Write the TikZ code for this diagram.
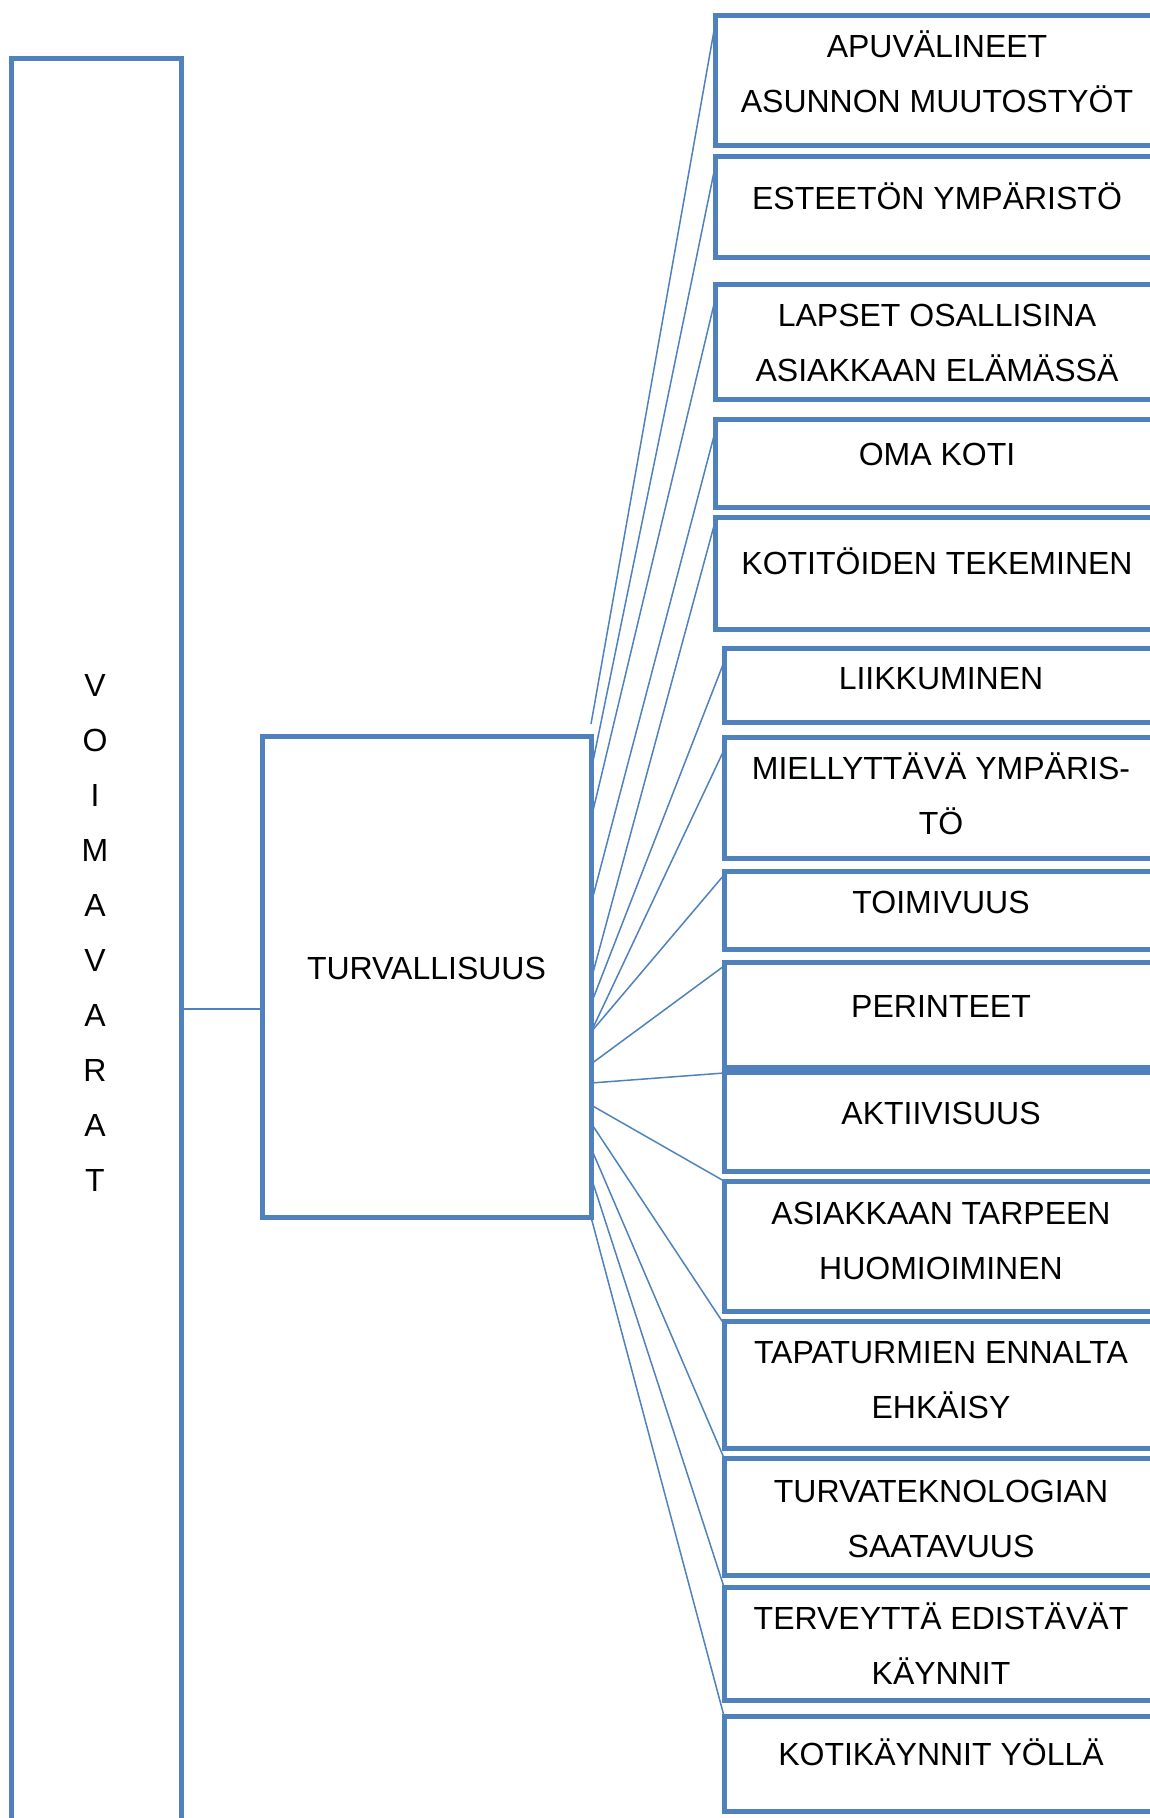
\documentclass[tikz,border=0pt]{standalone}
\usepackage{fontspec}
\setmainfont{Liberation Sans}
\usetikzlibrary{calc}
\definecolor{wordblue}{HTML}{4F81BD}
% fixed line height so multi-line labels centre on their capitals
\newcommand\linestrut{\rule[-10pt]{0pt}{40pt}}
\begin{document}
\begin{tikzpicture}[x=1pt,y=-1pt,
  box/.style={draw=wordblue, line width=5pt, rectangle, inner sep=0pt, outer sep=0pt},
  txt/.style={inner sep=0pt, align=center, font=\fontsize{32}{55}\selectfont},
  conn/.style={draw=wordblue, line width=1.5pt}]
\clip (0,0) rectangle (1150,1818);

% left column and the central box
\node[box, minimum width=169.4, minimum height=1782] (vo) at (96.3,949) {};
\node[txt] (vo-t) at (95,934) {\linestrut V\\\linestrut O\\\linestrut I\\\linestrut M\\\linestrut A\\\linestrut V\\\linestrut A\\\linestrut R\\\linestrut A\\\linestrut T};
\node[box, minimum width=329, minimum height=481] (turv) at (426.5,976.5) {};
\node[txt] (turv-t) at (426.5,969.5) {\linestrut TURVALLISUUS};

% upper group of boxes
\node[box, minimum width=444, minimum height=130] (apu) at (937,80) {};
\node[txt] (apu-t) at (937,75) {\linestrut APUVÄLINEET\\\linestrut ASUNNON MUUTOSTYÖT};
\node[box, minimum width=444, minimum height=101] (est) at (937,206.5) {};
\node[txt] (est-t) at (937,199.5) {\linestrut ESTEETÖN YMPÄRISTÖ};
\node[box, minimum width=444, minimum height=115] (lap) at (937,341.5) {};
\node[txt] (lap-t) at (937,343.5) {\linestrut LAPSET OSALLISINA\\\linestrut ASIAKKAAN ELÄMÄSSÄ};
\node[box, minimum width=444, minimum height=88] (oma) at (937,463) {};
\node[txt] (oma-t) at (937,455.5) {\linestrut OMA KOTI};
\node[box, minimum width=444, minimum height=112] (kot) at (937,573) {};
\node[txt] (kot-t) at (937,564.5) {\linestrut KOTITÖIDEN TEKEMINEN};

% lower group of boxes
\node[box, minimum width=434, minimum height=74] (liik) at (941,685) {};
\node[txt] (liik-t) at (941,679.5) {\linestrut LIIKKUMINEN};
\node[box, minimum width=434, minimum height=121] (miel) at (941,797.5) {};
\node[txt] (miel-t) at (941,796.5) {\linestrut MIELLYTTÄVÄ YMPÄRIS-\\\linestrut TÖ};
\node[box, minimum width=434, minimum height=78] (toim) at (941,910) {};
\node[txt] (toim-t) at (941,903.5) {\linestrut TOIMIVUUS};
\node[box, minimum width=434, minimum height=105] (per) at (941,1014.5) {};
\node[txt] (per-t) at (941,1007.5) {\linestrut PERINTEET};
\node[box, minimum width=434, minimum height=99] (akt) at (941,1121.5) {};
\node[txt] (akt-t) at (941,1114.5) {\linestrut AKTIIVISUUS};
\node[box, minimum width=434, minimum height=130] (asi) at (941,1246) {};
\node[txt] (asi-t) at (941,1242) {\linestrut ASIAKKAAN TARPEEN\\\linestrut HUOMIOIMINEN};
\node[box, minimum width=434, minimum height=127] (tap) at (941,1384.5) {};
\node[txt] (tap-t) at (941,1380.5) {\linestrut TAPATURMIEN ENNALTA\\\linestrut EHKÄISY};
\node[box, minimum width=434, minimum height=117] (tek) at (941,1516.5) {};
\node[txt] (tek-t) at (941,1519.5) {\linestrut TURVATEKNOLOGIAN\\\linestrut SAATAVUUS};
\node[box, minimum width=434, minimum height=113] (ter) at (941,1643.5) {};
\node[txt] (ter-t) at (941,1647) {\linestrut TERVEYTTÄ EDISTÄVÄT\\\linestrut KÄYNNIT};
\node[box, minimum width=434, minimum height=95] (yo) at (941,1763.5) {};
\node[txt] (yo-t) at (941,1755.5) {\linestrut KOTIKÄYNNIT YÖLLÄ};

% link from the left column to the central box
\coordinate (hj) at ($(turv.north west)+(0,273)$);
\draw[conn] (hj) -- (hj -| vo.east);

% fan of links from the central box
\coordinate (apu-s) at ($(turv.north east)+(0,-12)$);
\draw[conn] (apu-s) -- ($(apu.north west)+(0,10)$);
\draw[conn] ($(turv.north east)+(0,35)$) -- ($(est.north west)+(0,11)$);
\draw[conn] ($(turv.north east)+(0,83)$) -- ($(lap.north west)+(0,16)$);
\draw[conn] ($(turv.north east)+(0,168)$) -- ($(oma.north west)+(0,13)$);
\draw[conn] ($(turv.north east)+(0,244)$) -- ($(kot.north west)+(0,5)$);
\draw[conn] ($(turv.north east)+(0,268)$) -- ($(liik.north west)+(0,14)$);
\draw[conn] ($(turv.north east)+(0,296)$) -- ($(miel.north west)+(0,13)$);
\draw[conn] ($(turv.north east)+(0,296)$) -- ($(toim.north west)+(0,4)$);
\draw[conn] ($(turv.north east)+(0,328)$) -- ($(per.north west)+(0,4)$);
\draw[conn] ($(turv.north east)+(0,347)$) -- ($(akt.north west)+(0,1)$);
\draw[conn] ($(turv.north east)+(0,369)$) -- (asi.north west);
\draw[conn] ($(turv.north east)+(0,387)$) -- ($(tap.north west)+(0,3)$);
\draw[conn] ($(turv.north east)+(0,412)$) -- (tek.north west);
\draw[conn] ($(turv.north east)+(0,441)$) -- (ter.north west);
\draw[conn] (turv.south east) -- (yo.north west);
\end{tikzpicture}
\end{document}
